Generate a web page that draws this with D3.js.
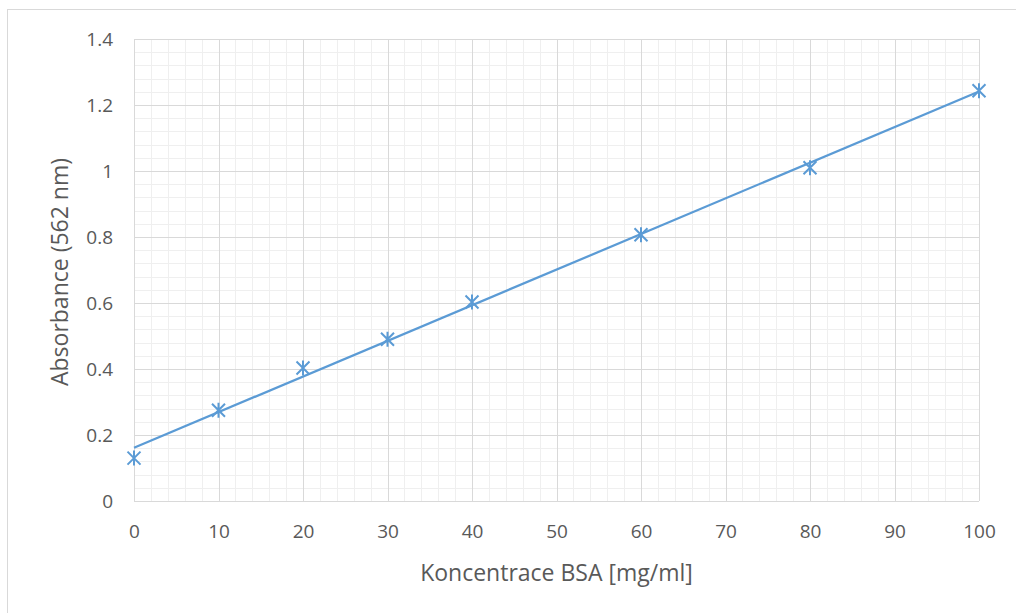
<!DOCTYPE html>
<html>
<head>
<meta charset="utf-8">
<script src="https://cdn.jsdelivr.net/npm/d3@7"></script>
<style>
  body { margin: 0; background: #fff; }
  text { font-family: "Open Sans", "Noto Sans", sans-serif; fill: #595959; }
</style>
</head>
<body>
<div class="chart"></div>
<script>
var svgWidth = 1016;
var svgHeight = 613;

var margin = { top: 39, right: 37, bottom: 112, left: 134 };
var width = 979 - margin.left;
var height = 501 - margin.top;

// measured points
var concentration = [0, 10, 20, 30, 40, 60, 80, 100];
var absorbance = [0.13, 0.275, 0.403, 0.49, 0.603, 0.807, 1.01, 1.243];
var xTicks = [0, 10, 20, 30, 40, 50, 60, 70, 80, 90, 100];
var yTicks = [0, 0.2, 0.4, 0.6, 0.8, 1, 1.2, 1.4];

var svg = d3.select(".chart").append("svg")
  .attr("width", svgWidth)
  .attr("height", svgHeight);

// chart area border
svg.append("rect")
  .attr("x", 7.5).attr("y", 9.5)
  .attr("width", 1020).attr("height", 620)
  .attr("fill", "none").attr("stroke", "#d9d9d9");

var chartGroup = svg.append("g")
  .attr("transform", `translate(${margin.left}, ${margin.top})`);

var xScale = d3.scaleLinear().domain([0, 100]).range([0, width]);
var yScale = d3.scaleLinear().domain([0, 1.4]).range([height, 0]);

// minor grid
var xMinor = d3.range(0, 101, 2);
var yMinor = d3.range(0, 36).map(i => i * 0.04);
chartGroup.append("g").selectAll("line").data(xMinor).enter().append("line")
  .attr("x1", d => Math.round(xScale(d)) + 0.5).attr("x2", d => Math.round(xScale(d)) + 0.5)
  .attr("y1", 0).attr("y2", height)
  .attr("stroke", "#efefef");
chartGroup.append("g").selectAll("line").data(yMinor).enter().append("line")
  .attr("y1", d => Math.round(yScale(d)) + 0.5).attr("y2", d => Math.round(yScale(d)) + 0.5)
  .attr("x1", 0).attr("x2", width)
  .attr("stroke", "#efefef");

// major grid
chartGroup.append("g").selectAll("line").data(xTicks).enter().append("line")
  .attr("x1", d => Math.round(xScale(d)) + 0.5).attr("x2", d => Math.round(xScale(d)) + 0.5)
  .attr("y1", 0).attr("y2", height)
  .attr("stroke", "#d9d9d9");
chartGroup.append("g").selectAll("line").data(yTicks).enter().append("line")
  .attr("y1", d => Math.round(yScale(d)) + 0.5).attr("y2", d => Math.round(yScale(d)) + 0.5)
  .attr("x1", 0).attr("x2", width)
  .attr("stroke", "#d9d9d9");

// axes (labels only)
var bottomAxis = d3.axisBottom(xScale).tickValues(xTicks).tickSize(0).tickPadding(24);
var leftAxis = d3.axisLeft(yScale).tickValues(yTicks).tickSize(0).tickPadding(21)
  .tickFormat(d => String(+d.toFixed(1)));

var xAxisG = chartGroup.append("g").attr("transform", `translate(0,${height})`).call(bottomAxis);
var yAxisG = chartGroup.append("g").call(leftAxis);
[xAxisG, yAxisG].forEach(g => {
  g.select(".domain").remove();
  g.selectAll("text").style("font-size", "19px").attr("fill", "#595959")
    .style("font-family", "'Open Sans', sans-serif");
});

// linear trendline (least squares)
var mx = d3.mean(concentration), my = d3.mean(absorbance);
var sxy = d3.sum(concentration, (x, i) => (x - mx) * (absorbance[i] - my));
var sxx = d3.sum(concentration, x => (x - mx) * (x - mx));
var slope = sxy / sxx, intercept = my - slope * mx;

chartGroup.append("line")
  .attr("x1", xScale(0)).attr("y1", yScale(intercept))
  .attr("x2", xScale(100)).attr("y2", yScale(intercept + slope * 100))
  .attr("stroke", "#5b9bd5").attr("stroke-width", 2.25);

// star markers
var s = 6.5;
chartGroup.append("g").selectAll("path")
  .data(concentration).enter().append("path")
  .attr("transform", (d, i) => `translate(${xScale(d)},${yScale(absorbance[i])})`)
  .attr("d", `M${-s},${-s}L${s},${s}M${-s},${s}L${s},${-s}M0,${-s - 1}L0,${s + 1}`)
  .attr("stroke", "#5b9bd5").attr("stroke-width", 2).attr("fill", "none");

// axis titles
svg.append("text")
  .attr("x", (134 + 979) / 2).attr("y", 581)
  .attr("text-anchor", "middle")
  .style("font-size", "23px")
  .text("Koncentrace BSA [mg/ml]");

svg.append("text")
  .attr("transform", `translate(68, ${(39 + 501) / 2 + 2}) rotate(-90)`)
  .attr("text-anchor", "middle")
  .style("font-size", "23px")
  .text("Absorbance (562 nm)");
</script>
</body>
</html>
